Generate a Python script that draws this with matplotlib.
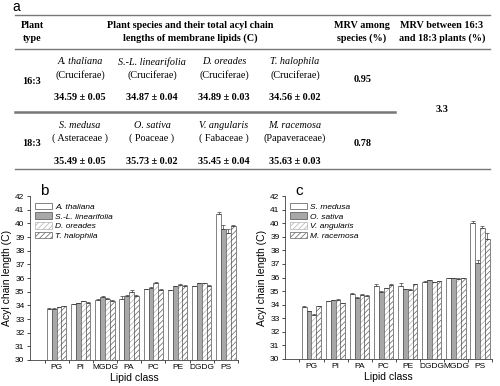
import numpy as np
import matplotlib
matplotlib.use('Agg')
import matplotlib.pyplot as plt

plt.rcParams['font.family'] = 'Liberation Sans'
plt.rcParams['hatch.linewidth'] = 0.5

# ---- table (panel a) ----
plant_types = ['16:3', '18:3']
species_163 = ['A. thaliana', 'S.-L. linearifolia', 'D. oreades', 'T. halophila']
families_163 = ['(Cruciferae)', '(Cruciferae)', '(Cruciferae)', '(Cruciferae)']
lengths_163 = ['34.59 ± 0.05', '34.87 ± 0.04', '34.89 ± 0.03', '34.56 ± 0.02']
species_183 = ['S. medusa', 'O. sativa', 'V. angularis', 'M. racemosa']
families_183 = ['( Asteraceae )', '( Poaceae )', '( Fabaceae )', '(Papaveraceae)']
lengths_183 = ['35.49 ± 0.05', '35.73 ± 0.02', '35.45 ± 0.04', '35.63 ± 0.03']
mrv_species = ['0.95', '0.78']
mrv_between = '3.3'

# ---- bar charts (panels b, c) ----
lipids_b = ['PG', 'PI', 'MGDG', 'PA', 'PC', 'PE', 'DGDG', 'PS']
values_b = {
    'A. thaliana':        [33.75, 34.10, 34.40, 34.45, 35.20, 35.10, 35.40, 40.70],
    'S.-L. linearifolia': [33.75, 34.15, 34.60, 34.70, 35.30, 35.40, 35.60, 39.60],
    'D. oreades':         [33.85, 34.30, 34.50, 35.00, 35.60, 35.50, 35.60, 39.30],
    'T. halophila':       [33.95, 34.20, 34.35, 34.70, 35.15, 35.45, 35.45, 39.80],
}
errors_b = {
    'A. thaliana':        [0.03, 0.03, 0.03, 0.20, 0.03, 0.03, 0.03, 0.10],
    'S.-L. linearifolia': [0.03, 0.03, 0.05, 0.05, 0.05, 0.03, 0.03, 0.30],
    'D. oreades':         [0.03, 0.03, 0.03, 0.10, 0.08, 0.03, 0.03, 0.30],
    'T. halophila':       [0.03, 0.03, 0.03, 0.03, 0.03, 0.03, 0.03, 0.08],
}
lipids_c = ['PG', 'PI', 'PA', 'PC', 'PE', 'DGDG', 'MGDG', 'PS']
values_c = {
    'S. medusa':    [33.85, 34.25, 34.80, 35.35, 35.35, 35.70, 35.95, 40.00],
    'O. sativa':    [33.50, 34.35, 34.50, 34.95, 35.15, 35.80, 35.95, 37.10],
    'V. angularis': [33.25, 34.35, 34.75, 35.20, 35.10, 35.65, 35.90, 39.65],
    'M. racemosa':  [33.90, 34.10, 34.65, 35.45, 35.50, 35.75, 35.95, 38.85],
}
errors_c = {
    'S. medusa':    [0.05, 0.03, 0.05, 0.20, 0.25, 0.05, 0.03, 0.20],
    'O. sativa':    [0.03, 0.03, 0.05, 0.03, 0.03, 0.05, 0.03, 0.20],
    'V. angularis': [0.03, 0.05, 0.05, 0.03, 0.03, 0.03, 0.03, 0.15],
    'M. racemosa':  [0.03, 0.03, 0.03, 0.05, 0.05, 0.03, 0.03, 0.45],
}

styles = [
    dict(face='white', hatch=None, hcol=None),
    dict(face='#a8a8a8', hatch=None, hcol=None),
    dict(face='white', hatch='//////', hcol='#b0b0b0'),
    dict(face='white', hatch='//////', hcol='#606060'),
]

fig = plt.figure(figsize=(5, 3.86), dpi=100)

# table drawn in a pixel-space axes
tab = fig.add_axes([0, 0, 1, 1])
tab.set_xlim(0, 500)
tab.set_ylim(386, 0)
tab.axis('off')

serif = 'Liberation Serif'
fs = 7.3
lc = '#777777'
tab.text(16, 7, 'a', fontsize=10, ha='center', va='center')
tab.plot([15, 490], [15, 15], color=lc, lw=1.0)
tab.plot([15, 490], [49, 49], color=lc, lw=1.0)
tab.plot([15, 395], [112, 112], color=lc, lw=1.8)
tab.plot([15, 490], [169, 169], color=lc, lw=1.0)

tab.text(32, 32, 'Plant\ntype', family=serif, weight='bold', fontsize=fs,
         ha='center', va='center', linespacing=1.45)
tab.text(190, 32, 'Plant species and their total acyl chain\nlengths of membrane lipids (C)',
         family=serif, weight='bold', fontsize=fs, ha='center', va='center', linespacing=1.45)
tab.text(362, 32, 'MRV among\nspecies (%)', family=serif, weight='bold', fontsize=fs,
         ha='center', va='center', linespacing=1.45)
tab.text(442, 32, 'MRV between 16:3\nand 18:3 plants (%)', family=serif, weight='bold',
         fontsize=fs, ha='center', va='center', linespacing=1.45)

col_x = [80, 152, 224, 295]
rows = [(species_163, families_163, lengths_163, 62), (species_183, families_183, lengths_183, 125)]
for r, (sp, fam, ln, y0) in enumerate(rows):
    tab.text(32, y0 + 19, plant_types[r], family=serif, weight='bold', fontsize=fs,
             ha='center', va='center')
    tab.text(363, y0 + 18, mrv_species[r], family=serif, weight='bold', fontsize=fs,
             ha='center', va='center')
    for i, x in enumerate(col_x):
        tab.text(x, y0, sp[i], family=serif, style='italic', fontsize=fs, ha='center', va='center')
        tab.text(x, y0 + 13, fam[i], family=serif, fontsize=fs, ha='center', va='center')
        tab.text(x, y0 + 36, ln[i], family=serif, weight='bold', fontsize=fs,
                 ha='center', va='center')
tab.text(442, 110, mrv_between, family=serif, weight='bold', fontsize=fs,
         ha='center', va='center')


def bar_panel(rect, lipids, values, errors, letter):
    ax = fig.add_axes(rect)
    x = np.arange(len(lipids))
    w = 0.2
    handles = []
    for k, name in enumerate(values):
        st = styles[k]
        pos = x + (k - 1.5) * w
        if st['hatch']:
            ax.bar(pos, np.array(values[name]) - 30, w, bottom=30, color=st['face'],
                   hatch=st['hatch'], edgecolor=st['hcol'], linewidth=0)
        ax.bar(pos, np.array(values[name]) - 30, w, bottom=30,
               color=st['face'] if not st['hatch'] else 'none',
               edgecolor='#505050', linewidth=0.5)
        ax.errorbar(pos, values[name], yerr=[np.zeros(len(lipids)), errors[name]],
                    fmt='none', ecolor='#404040', elinewidth=0.5, capsize=1.2, capthick=0.5)
        handles.append(plt.Rectangle((0, 0), 1, 1, facecolor=st['face'],
                                     hatch=st['hatch'], edgecolor=st['hcol'] or '#505050',
                                     linewidth=0.5))
    ax.set_ylim(30, 42)
    ax.set_yticks(range(30, 43))
    ax.set_xlim(-1.1, 7.5)
    ax.set_xticks(x)
    ax.set_xticklabels(lipids)
    ax.set_xticks(np.arange(-0.5, 7.6, 1), minor=True)
    ax.tick_params(axis='x', which='major', length=0, labelsize=6, pad=3)
    ax.tick_params(axis='x', which='minor', length=2, width=0.5, direction='out')
    ax.tick_params(axis='y', labelsize=6, length=2.5, width=0.5, pad=1.5)
    ax.spines['top'].set_visible(False)
    ax.spines['right'].set_visible(False)
    for s in ('left', 'bottom'):
        ax.spines[s].set_linewidth(0.6)
        ax.spines[s].set_color('#404040')
    ax.set_xlabel('Lipid class', fontsize=7.5, labelpad=1)
    ax.set_ylabel('Acyl chain length (C)', fontsize=7.5, labelpad=2)
    ax.legend(handles, list(values), loc='upper left', bbox_to_anchor=(0.0, 0.99),
              frameon=False, prop={'style': 'italic', 'size': 6}, handlelength=2.0,
              handleheight=0.8, labelspacing=0.2, handletextpad=0.4, borderaxespad=0.2)
    ax.text(0.07, 1.03, letter, transform=ax.transAxes, fontsize=11, ha='center', va='center')
    return ax


bar_panel([0.06, 0.0674, 0.416, 0.4246], lipids_b, values_b, errors_b, 'b')
bar_panel([0.57, 0.07, 0.414, 0.422], lipids_c, values_c, errors_c, 'c')

fig.savefig('out.png', dpi=100)
